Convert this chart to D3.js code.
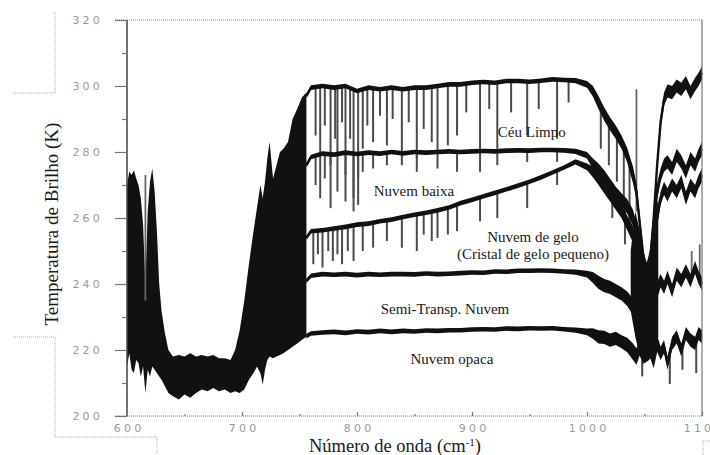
<!DOCTYPE html>
<html>
<head>
<meta charset="utf-8">
<script src="https://cdn.jsdelivr.net/npm/d3@7.9.0/dist/d3.min.js"></script>
<style>
  body { margin: 0; background: #fff; }
  svg { display: block; }
  .tick-label { font-family: "DejaVu Sans", sans-serif; font-size: 11px; letter-spacing: 3.2px; fill: #999; }
  .serif { font-family: "Liberation Serif", "Times New Roman", serif; fill: #1a1a1a; }
</style>
</head>
<body>
<svg id="chart" width="710" height="455"></svg>
<script>
// ---- data ----

// dense CO2 band (600-756 cm-1), all spectra overlap: upper / lower envelope
const bandWn = [600, 602, 604, 606, 608, 610, 612, 614, 616, 618, 620, 622, 624, 626, 628, 630, 633, 636, 640, 645, 650, 655, 660, 665, 670, 675, 680, 685, 690, 694, 698, 702, 706, 710, 713, 716, 718, 720, 722, 724, 727, 730, 733, 736, 740, 744, 748, 752, 756];
const bandHi = [270, 274, 273, 274.5, 272, 270, 266, 258, 240, 262, 271, 275, 268, 256, 240, 232, 225, 220, 218, 218.5, 218, 219, 218, 218.5, 218, 218.5, 217.5, 217.5, 217, 220, 226, 235, 246, 256, 263, 270, 266, 271, 278, 283, 272, 276, 280, 281, 283, 290, 293, 296.5, 298];
const bandLo = [215, 219, 214, 213, 217, 216, 212, 215, 207, 214, 212, 215, 214, 213, 212, 211, 209, 207, 206, 205, 206.5, 205.5, 207, 208, 207.5, 208.5, 207.5, 208, 207, 207.5, 207, 208, 211, 213, 215, 213, 209.5, 214, 217, 218, 217.5, 218, 218.5, 219, 220, 221, 222, 223, 224];

// spectra beyond 756 cm-1
const specWn = [756, 760, 770, 780, 790, 800, 810, 820, 830, 840, 850, 860, 870, 880, 890, 900, 910, 920, 930, 940, 950, 960, 970, 980, 990, 1000, 1005, 1010, 1015, 1020, 1025, 1030, 1035, 1040, 1043, 1046, 1049, 1052, 1055, 1058, 1061, 1064, 1067, 1070, 1074, 1078, 1082, 1086, 1090, 1094, 1097, 1100];
const clearSky = [297, 299.5, 300, 299.5, 300, 298.5, 299.5, 299, 299.5, 299, 299.5, 299.5, 300, 300.5, 300.5, 301, 301.2, 301, 301.5, 301.5, 301.3, 301.6, 302, 301.8, 301.6, 300.5, 298.5, 295, 291.5, 288.5, 286, 283, 279, 273, 268, 258, 248, 243, 246, 260, 276, 289, 296, 298.5, 298, 300, 299, 301, 298, 300.5, 302, 304];
const lowCloud = [276, 278.5, 279.5, 279.2, 279.8, 279.4, 279.8, 279.5, 280, 279.6, 280, 279.8, 280, 280.2, 280, 280.2, 280.3, 280.2, 280.4, 280.5, 280.4, 280.6, 280.6, 280.5, 280.2, 279, 276.5, 274.5, 272.5, 270, 267.5, 265.5, 263.5, 260, 256, 252, 247, 244, 248, 259, 268, 273, 276, 277, 275, 279, 277, 274, 278, 276, 279, 281];
const iceCloud = [254, 256, 256.3, 256.8, 257.3, 258, 258.3, 259, 259.5, 260.3, 261, 261.6, 262.3, 263.2, 264.5, 265.5, 266.6, 267.6, 268.7, 269.8, 271, 272.3, 273.8, 275.3, 277, 275.5, 274, 272, 269.5, 267, 264.5, 262, 258.5, 255, 251, 246, 241, 238, 240, 250, 260, 266, 269, 267, 270, 268, 271, 266, 270, 268, 271, 273];
const semiCloud = [241, 242.5, 243, 242.8, 243, 242.7, 243, 242.8, 243, 243, 242.9, 243.2, 243, 243.1, 243.3, 243.5, 243.4, 243.8, 243.7, 244, 244, 244.1, 244, 243.8, 243.6, 243, 242, 240.5, 239.5, 239, 238, 237, 235.5, 233, 231, 228, 225, 226, 229, 234, 238, 241, 239, 242, 238, 243, 241, 244, 241, 245, 242, 240];
const opaqueCloud = [224.2, 225, 225.3, 225.5, 225.2, 225.6, 225.4, 225.8, 225.5, 225.8, 225.6, 225.9, 225.8, 226, 226, 226.2, 226.3, 226.2, 226.5, 226.4, 226.6, 226.5, 226.6, 226.3, 226, 225.5, 225, 224, 223.8, 223, 223.5, 222.5, 221.5, 219.5, 218, 221, 218, 223, 220, 217, 222, 219, 221, 216, 222, 224, 220, 225, 223, 222, 225, 224];
// half-thickness of the noisy trace (K)
const specNoise = [0.7, 0.7, 0.7, 0.7, 0.7, 0.7, 0.7, 0.7, 0.7, 0.7, 0.7, 0.7, 0.7, 0.7, 0.7, 0.7, 0.7, 0.7, 0.7, 0.7, 0.7, 0.7, 0.7, 0.7, 0.8, 1.0, 1.6, 2.0, 2.0, 2.0, 2.0, 2.0, 2.2, 2.5, 2.5, 2.5, 2.5, 2.5, 2.5, 2.5, 2.5, 2, 2, 2, 2, 2, 2, 2, 2, 2, 2, 2];

// ozone band core, where all traces blur together
const ozoneWn = [1038, 1042, 1046, 1050, 1054, 1058, 1062];
const ozoneHi = [250, 262, 256, 247, 244, 260, 266];
const ozoneLo = [232, 224, 218, 216, 217, 219, 224];

// absorption lines (wavenumber, lowest temperature)
const clearLineWn = [764, 768, 772, 777, 781, 783, 787, 790, 794, 797, 801, 805, 809, 814, 820, 826, 831, 839, 845, 852, 858, 865, 870, 879, 887, 895, 907, 915, 922, 934, 948, 958, 974, 984, 1012, 1019, 1026, 1032, 1037];
const clearLineT = [285, 279, 288, 276, 284, 279, 289, 273, 284, 266, 264, 281, 288, 283, 291, 282, 290, 280, 289, 278, 287, 283, 280, 282, 285, 292, 280, 293, 281, 292, 285, 293, 284, 295, 281, 276, 271, 266, 258];
const lowLineWn = [764, 768, 772, 777, 783, 790, 797, 801, 805, 814, 826, 839, 852, 870, 887, 907, 922, 948, 974, 1022, 1033];
const lowLineT = [270, 266, 272, 263, 268, 265, 262, 272, 274, 275, 276, 276, 274, 275, 274, 274, 276, 277, 277, 260, 252];
const iceLineWn = [762, 766, 770, 775, 779, 783, 787, 792, 797, 805, 814, 826, 839, 852, 858, 865, 870, 879, 887, 907, 922, 948, 974];
const iceLineT = [246, 249, 245, 250, 247, 249, 246, 250, 247, 250, 251, 253, 251, 250, 255, 253, 254, 255, 256, 259, 260, 263, 270];
const opaqueLineWn = [1048, 1072, 1083, 1095];
const opaqueLineT = [212, 209.7, 214, 213];
// thin emission spikes (wavenumber, from, to)
const upLineWn = [616, 1043, 1091, 1098];
const upLineFrom = [235, 262, 241, 242];
const upLineTo = [273, 299, 250, 252];

// axis ticks
const yMajor = [200, 220, 240, 260, 280, 300, 320];
const yMinor = [210, 230, 250, 270, 290, 310];
const xMajor = [600, 700, 800, 900, 1000, 1100];
const xMinor = [650, 750, 850, 950, 1050];

// curve labels
const labelText = ["Céu Limpo", "Nuvem baixa", "Nuvem de gelo", "(Cristal de gelo pequeno)", "Semi-Transp. Nuvem", "Nuvem opaca"];
const labelWn = [952, 849.5, 953, 953, 876.5, 882.5];
const labelT = [284.5, 266.7, 252.7, 247.6, 230.9, 215.8];

// ---- drawing ----
const svg = d3.select("#chart");
const x = d3.scaleLinear().domain([600, 1100]).range([127, 702]);
const y = d3.scaleLinear().domain([200, 320]).range([416, 20]);

const ink = "#111";
const plot = svg.append("g");

// dense band
const bandData = bandWn.map((w, i) => ({ w, hi: bandHi[i], lo: bandLo[i] }));
plot.append("path")
  .attr("d", d3.area().x(d => x(d.w)).y0(d => y(d.lo)).y1(d => y(d.hi))(bandData))
  .attr("fill", ink);

// absorption lines (drawn under the traces)
function drawLines(wns, lows, base) {
  const at = d3.scaleLinear().domain(specWn).range(base);
  wns.forEach((w, i) => {
    plot.append("line")
      .attr("x1", x(w)).attr("x2", x(w))
      .attr("y1", y(at(w))).attr("y2", y(lows[i]))
      .attr("stroke", "#4a4a4a").attr("stroke-width", 2);
  });
}
drawLines(clearLineWn, clearLineT, clearSky);
drawLines(lowLineWn, lowLineT, lowCloud);
drawLines(iceLineWn, iceLineT, iceCloud);
drawLines(opaqueLineWn, opaqueLineT, opaqueCloud);
upLineWn.forEach((w, i) => {
  plot.append("line")
    .attr("x1", x(w)).attr("x2", x(w))
    .attr("y1", y(upLineFrom[i])).attr("y2", y(upLineTo[i]))
    .attr("stroke", "#666").attr("stroke-width", 1.8);
});

// ozone core
const ozoneData = ozoneWn.map((w, i) => ({ w, hi: ozoneHi[i], lo: ozoneLo[i] }));
plot.append("path")
  .attr("d", d3.area().x(d => x(d.w)).y0(d => y(d.lo)).y1(d => y(d.hi))(ozoneData))
  .attr("fill", ink);

// traces
[clearSky, lowCloud, iceCloud, semiCloud, opaqueCloud].forEach(series => {
  const pts = specWn.map((w, i) => ({ w, t: series[i], n: specNoise[i] }));
  plot.append("path")
    .attr("d", d3.area().x(d => x(d.w)).y0(d => y(d.t - d.n)).y1(d => y(d.t + d.n))(pts))
    .attr("fill", ink);
  plot.append("path")
    .attr("d", d3.line().x(d => x(d.w)).y(d => y(d.t))(pts))
    .attr("fill", "none").attr("stroke", ink).attr("stroke-width", 2.4)
    .attr("stroke-linejoin", "round");
});

// frame
svg.append("line").attr("x1", 115).attr("x2", 702).attr("y1", 20).attr("y2", 20)
  .attr("stroke", "#888").attr("stroke-dasharray", "1,1");
svg.append("line").attr("x1", 702).attr("x2", 702).attr("y1", 20).attr("y2", 416)
  .attr("stroke", "#777").attr("stroke-width", 1.2);
svg.append("line").attr("x1", 115).attr("x2", 702).attr("y1", 416).attr("y2", 416)
  .attr("stroke", "#777").attr("stroke-dasharray", "1,1");
svg.append("line").attr("x1", 127).attr("x2", 127).attr("y1", 20).attr("y2", 416)
  .attr("stroke", "#444").attr("stroke-width", 1.5);

// y axis
const yAxis = svg.append("g").attr("transform", "translate(127,0)")
  .call(d3.axisLeft(y).tickValues(yMajor).tickSize(12).tickPadding(15).tickFormat(d3.format("d")));
const yAxisMinor = svg.append("g").attr("transform", "translate(127,0)")
  .call(d3.axisLeft(y).tickValues(yMinor).tickSize(5).tickFormat(""));

// x axis, ticks point up into the plot
const xAxis = svg.append("g").attr("transform", "translate(0,416)")
  .call(d3.axisBottom(x).tickValues(xMajor).tickSizeInner(-4).tickSizeOuter(0).tickPadding(8).tickFormat(d3.format("d")));
const xAxisMinor = svg.append("g").attr("transform", "translate(0,416)")
  .call(d3.axisBottom(x).tickValues(xMinor).tickSizeInner(-2).tickSizeOuter(0).tickFormat(""));

[yAxis, yAxisMinor, xAxis, xAxisMinor].forEach(g => {
  g.select(".domain").remove();
  g.selectAll(".tick line").attr("stroke", "#777").attr("stroke-width", 1.2);
  g.selectAll(".tick text").attr("class", "tick-label").attr("fill", null);
});
yAxis.selectAll(".tick text").attr("dx", "3px");
xAxis.selectAll(".tick text").attr("dx", "1.6px");

// axis titles
svg.append("text").attr("class", "serif")
  .attr("transform", "translate(58,224) rotate(-90)")
  .attr("text-anchor", "middle").attr("font-size", 19)
  .text("Temperatura de Brilho (K)");

const xTitle = svg.append("text").attr("class", "serif")
  .attr("x", 395).attr("y", 452).attr("text-anchor", "middle").attr("font-size", 18.5);
xTitle.append("tspan").text("Número de onda (cm");
xTitle.append("tspan").attr("font-size", 11).attr("dy", -6).text("-1");
xTitle.append("tspan").attr("dy", 6).text(")");

// curve labels
labelText.forEach((t, i) => {
  svg.append("text").attr("class", "serif")
    .attr("x", x(labelWn[i])).attr("y", y(labelT[i]))
    .attr("text-anchor", "middle").attr("font-size", 15)
    .text(t);
});

// scan-crop marks around the figure
const marks = [
  [[55, 12], [55, 93], [13, 93]],
  [[13, 337], [55, 337], [55, 437], [157, 437], [157, 455]],
  [[710, 441], [703, 441], [703, 455]]
];
marks.forEach(m => {
  svg.append("path").attr("d", d3.line()(m))
    .attr("fill", "none").attr("stroke", "#aaa").attr("stroke-dasharray", "1,1");
});
</script>
</body>
</html>
